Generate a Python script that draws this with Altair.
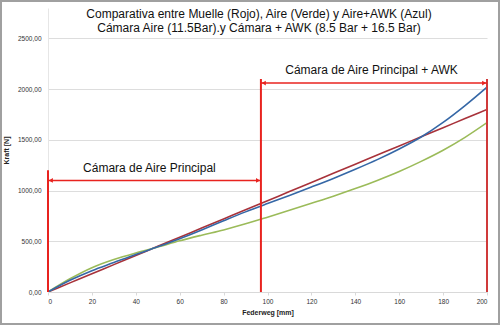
import altair as alt
import pandas as pd

# ---- data ----
federweg = [0, 10, 20, 30, 40, 50, 60, 70, 80, 90, 100, 110, 120, 130, 140, 150, 160, 170, 180, 190, 200]
muelle   = [0, 90, 180, 270, 360, 450, 540, 630, 720, 810, 900, 990, 1080, 1170, 1260, 1350, 1440, 1530, 1620, 1710, 1800]
aire     = [0, 130, 240, 320, 385, 443, 505, 560, 612, 672, 738, 806, 875, 945, 1020, 1100, 1188, 1288, 1398, 1525, 1670]
aire_awk = [0, 115, 210, 290, 370, 445, 525, 612, 702, 790, 872, 952, 1035, 1120, 1210, 1305, 1410, 1528, 1672, 1838, 2020]

series_names = ["Muelle", "Aire", "Aire+AWK"]
series_colors = ["#A8323A", "#9BBB59", "#3567A6"]

title_lines = ["Comparativa entre Muelle (Rojo), Aire (Verde) y Aire+AWK (Azul)",
               "Cámara Aire (11.5Bar).y Cámara + AWK (8.5 Bar + 16.5 Bar)"]
label_left = "Cámara de Aire Principal"
label_right = "Cámara de Aire Principal + AWK"
x_ticks = [0, 20, 40, 60, 80, 100, 120, 140, 160, 180, 200]
y_ticks = [0, 500, 1000, 1500, 2000, 2500]

rows = []
for name, vals in zip(series_names, [muelle, aire, aire_awk]):
    for xv, yv in zip(federweg, vals):
        rows.append({"Federweg": xv, "Kraft": yv, "Serie": name})
df = pd.DataFrame(rows)

FONT = "Liberation Sans"
RED = "#E8231F"

xscale = alt.Scale(domain=[0, 200], nice=False, zero=False)
yscale = alt.Scale(domain=[0, 2800], nice=False)

lines = alt.Chart(df).mark_line(strokeWidth=1.6, clip=True, interpolate="monotone").encode(
    x=alt.X("Federweg:Q", scale=xscale,
            axis=alt.Axis(title="Federweg [mm]", values=x_ticks, grid=False,
                          labelFontSize=6.5, titleFontSize=7, titleFont=FONT, labelFont=FONT,
                          titleFontWeight="bold", labelColor="#333333", titleColor="#222222",
                          domainColor="#D9D9D9", tickColor="#D9D9D9", tickSize=3,
                          labelPadding=3, titlePadding=4)),
    y=alt.Y("Kraft:Q", scale=yscale,
            axis=alt.Axis(title="Kraft [N]", values=y_ticks, grid=True, gridColor="#DDDDDD",
                          labelExpr="replace(format(datum.value, '.2f'), '.', ',')",
                          labelFontSize=6.5, titleFontSize=7, titleFont=FONT, labelFont=FONT,
                          titleFontWeight="bold", labelColor="#333333", titleColor="#222222",
                          domainColor="#E6E6E6", ticks=False, labelPadding=7, titlePadding=8)),
    color=alt.Color("Serie:N", scale=alt.Scale(domain=series_names, range=series_colors), legend=None),
    order=alt.Order("Federweg:Q"),
)

def vrule(x, y0, y1, color=RED, w=2):
    return alt.Chart().mark_rule(color=color, strokeWidth=w).encode(
        x=alt.datum(x, scale=xscale), y=alt.datum(y0, scale=yscale), y2=alt.datum(y1))

def hrule(x0, x1, y, color=RED, w=1.6):
    return alt.Chart().mark_rule(color=color, strokeWidth=w).encode(
        x=alt.datum(x0, scale=xscale), x2=alt.datum(x1), y=alt.datum(y, scale=yscale))

def head(x, y, shape):
    return alt.Chart().mark_point(shape=shape, filled=True, color=RED, size=22, opacity=1).encode(
        x=alt.datum(x, scale=xscale), y=alt.datum(y, scale=yscale))

def label(x, y, text):
    return alt.Chart().mark_text(font=FONT, fontSize=12, color="#111111",
                                 align="center", baseline="middle").encode(
        x=alt.datum(x, scale=xscale), y=alt.datum(y, scale=yscale), text=alt.value(text))

annot = [
    vrule(0, 0, 1200),
    vrule(97, 0, 2100),
    vrule(200, 0, 2100, color="#D03A3A"),
    hrule(0, 97, 1100),
    hrule(97, 200, 2060),
    head(1.3, 1100, "triangle-left"),
    head(95.7, 1100, "triangle-right"),
    head(98.3, 2060, "triangle-left"),
    head(198.7, 2060, "triangle-right"),
    label(46.2, 1226, label_left),
    label(147.4, 2189, label_right),
]

title1 = alt.Chart().mark_text(font=FONT, fontSize=12, color="#111111", align="center",
                               baseline="middle").encode(
    x=alt.value(211), y=alt.value(6), text=alt.value(title_lines[0]))
title2 = alt.Chart().mark_text(font=FONT, fontSize=12, color="#111111", align="center",
                               baseline="middle").encode(
    x=alt.value(211), y=alt.value(20), text=alt.value(title_lines[1]))

border = alt.Chart().mark_rect(fill=None, filled=False, stroke="#A0A0A0", strokeWidth=2).encode(
    x=alt.value(-47), x2=alt.value(451), y=alt.value(-7), y2=alt.value(316))

chart = alt.layer(lines, *annot, title1, title2, border).properties(
    width=439, height=284,
    padding={"left": 48, "top": 8, "right": 13, "bottom": 33},
    autosize=alt.AutoSizeParams(type="none"),
    background="white",
).configure_view(stroke=None)

chart.save("out.html", embed_options={"renderer": "svg", "actions": False})
